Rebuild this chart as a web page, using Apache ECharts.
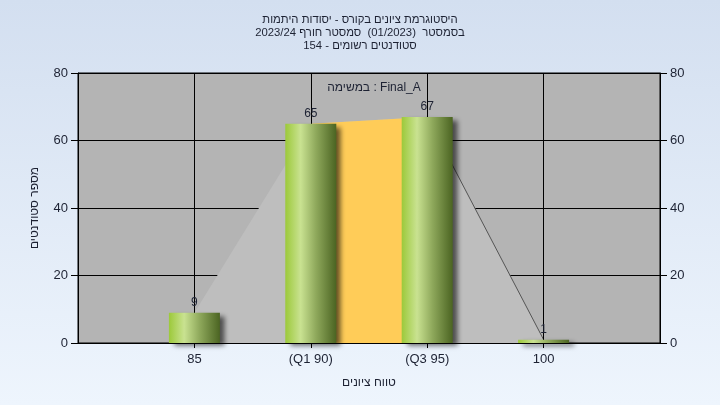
<!DOCTYPE html>
<html>
<head>
<meta charset="utf-8">
<script src="https://cdn.jsdelivr.net/npm/echarts@6/dist/echarts.min.js"></script>
<style>
html,body{margin:0;padding:0;}
#c{width:720px;height:405px;background:linear-gradient(#d3dff0,#eef5fd);}
</style>
</head>
<body>
<div id="c"></div>
<script>
const titleLines = ['היסטוגרמת ציונים בקורס - יסודות היתמות', 'בסמסטר  (01/2023)  סמסטר חורף 2023/24', 'סטודנטים רשומים - 154'];
const legendText = 'במשימה : Final_A';
const xName = 'טווח ציונים';
const yName = 'מספר סטודנטים';
const categories = ['', '85', '(Q1 90)', '(Q3 95)', '100', ''];
const counts = [null, 9, 65, 67, 1, null];
const quartileBand = [null, null, 65, 67, null, null];
const tailLine = [null, null, null, 67, 1, null];
const yTicks = [0, 20, 40, 60, 80];

const font = 'Liberation Sans, Arial, DejaVu Sans, sans-serif';
const txt = '#1d2233';
const chart = echarts.init(document.getElementById('c'));
const barGrad = new echarts.graphic.LinearGradient(0, 0, 1, 0, [
  {offset: 0, color: '#9cc93a'},
  {offset: 0.3, color: '#c9e291'},
  {offset: 0.6, color: '#8fa95c'},
  {offset: 1, color: '#4b6422'}
]);
const yAxisBase = {
  type: 'value', min: yTicks[0], max: yTicks[yTicks.length - 1], interval: 20,
  axisLine: {show: true, lineStyle: {color: '#000', width: 1}},
  axisTick: {show: true, length: 7, lineStyle: {color: '#000'}},
  axisLabel: {color: txt, fontSize: 13, fontFamily: font, margin: 10}
};
chart.setOption({
  animation: false,
  textStyle: {fontFamily: font},
  title: [
    {text: titleLines.join('\n'), left: 'center', top: 8,
     textStyle: {fontSize: 11.3, fontWeight: 'normal', color: txt, lineHeight: 13, fontFamily: font}},
    {text: legendText, left: 369, top: 77, textAlign: 'center',
     textStyle: {fontSize: 12, fontWeight: 'normal', color: txt, fontFamily: font}}
  ],
  grid: {left: 78, right: 60, top: 73, bottom: 62, show: true, backgroundColor: '#b4b4b4', borderColor: '#000', borderWidth: 1},
  xAxis: {
    type: 'category', data: categories, boundaryGap: false,
    name: xName, nameLocation: 'middle', nameGap: 34,
    nameTextStyle: {color: txt, fontSize: 12, fontFamily: font},
    axisLine: {show: true, lineStyle: {color: '#000'}},
    axisTick: {show: true, length: 5, interval: (i) => i > 0 && i < categories.length - 1, lineStyle: {color: '#000'}},
    axisLabel: {interval: 0, color: txt, fontSize: 13, fontFamily: font, margin: 10},
    splitLine: {show: true, lineStyle: {color: '#000', width: 1}}
  },
  yAxis: [
    Object.assign({}, yAxisBase, {position: 'left', name: yName, nameLocation: 'middle', nameGap: 37,
      nameTextStyle: {color: txt, fontSize: 12, fontFamily: font},
      splitLine: {show: true, lineStyle: {color: '#000', width: 1}}}),
    Object.assign({}, yAxisBase, {position: 'right', splitLine: {show: false}})
  ],
  series: [
    {type: 'line', data: counts, z: 1, symbol: 'none', silent: true,
     lineStyle: {width: 0}, areaStyle: {color: '#bebebe', opacity: 1}},
    {type: 'line', data: quartileBand, z: 1, symbol: 'none', silent: true,
     lineStyle: {width: 0}, areaStyle: {color: '#ffcc58', opacity: 1},
     markLine: {silent: true, symbol: 'none', label: {show: false},
       lineStyle: {color: '#000', width: 1, type: 'solid'},
       data: categories.slice(1, -1).map(c => ({xAxis: c}))}},
    {type: 'line', data: tailLine, z: 3, symbol: 'none', silent: true,
     lineStyle: {width: 1, color: '#555'}},
    {type: 'bar', data: counts, barWidth: 51, z: 10,
     itemStyle: {color: barGrad, shadowColor: 'rgba(0,0,0,0.6)', shadowBlur: 5, shadowOffsetX: 5, shadowOffsetY: 3},
     label: {show: true, position: 'top', distance: 4, color: txt, fontSize: 12, fontFamily: font}}
  ]
});
</script>
</body>
</html>
